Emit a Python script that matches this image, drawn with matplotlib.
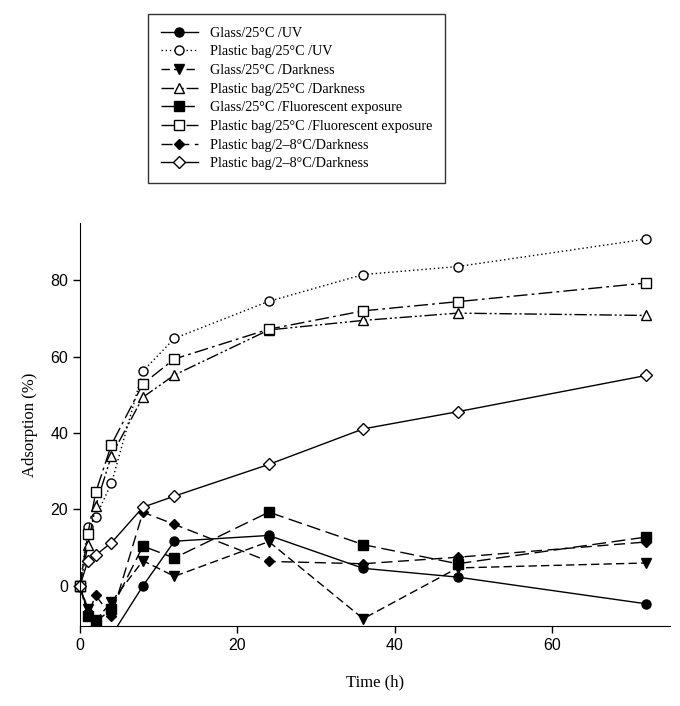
import matplotlib.pyplot as plt
from matplotlib.patches import Rectangle

# data
hours = [0, 1, 2, 4, 8, 12, 24, 36, 48, 72]

glass_uv = [0, -7, -10, -13, 0, 11.7, 13.2, 4.6, 2.3, -4.7]
bag_uv = [0, 15.5, 18, 26.9, 56.2, 64.8, 74.5, 81.5, 83.6, 90.8]
glass_dark = [0, -6, -9, -4.2, 6.6, 2.5, 11.6, -8.6, 4.7, 6.0]
bag_dark = [0, 10.7, 21.0, 34.1, 49.4, 55.2, 67.0, 69.5, 71.4, 70.8]
glass_fluo = [0, -8, -9.5, -6, 10.4, 7.3, 19.3, 10.8, 5.8, 12.8]
bag_fluo = [0, 13.6, 24.5, 37.0, 52.9, 59.4, 67.2, 72.0, 74.4, 79.3]
bag_cold_dark_f = [0, -7.5, -2.5, -8, 19.3, 16.1, 6.4, 5.8, 7.5, 11.5]
bag_cold_dark_o = [0, 6.6, 8.1, 11.3, 20.6, 23.5, 31.8, 41.1, 45.6, 55.1]

labels = ['Glass/25°C /UV',
          'Plastic bag/25°C /UV',
          'Glass/25°C /Darkness',
          'Plastic bag/25°C /Darkness',
          'Glass/25°C /Fluorescent exposure',
          'Plastic bag/25°C /Fluorescent exposure',
          'Plastic bag/2–8°C/Darkness',
          'Plastic bag/2–8°C/Darkness']

series = [glass_uv, bag_uv, glass_dark, bag_dark,
          glass_fluo, bag_fluo, bag_cold_dark_f, bag_cold_dark_o]

styles = [
    dict(marker='o', mfc='black', ms=6.5, ls='-'),
    dict(marker='o', mfc='white', ms=6.5, ls=(0, (1, 2))),
    dict(marker='v', mfc='black', ms=7, ls=(0, (6, 3))),
    dict(marker='^', mfc='white', ms=7, ls=(0, (9, 2, 1.5, 2, 1.5, 2))),
    dict(marker='s', mfc='black', ms=6.5, ls=(0, (10, 4))),
    dict(marker='s', mfc='white', ms=6.5, ls=(0, (10, 3, 2, 3))),
    dict(marker='D', mfc='black', ms=5.5, ls=(0, (8, 4))),
    dict(marker='D', mfc='white', ms=6, ls='-'),
]

fig = plt.figure(figsize=(6.8, 7.06), dpi=100)
ax = fig.add_axes([80 / 680, 80 / 706, 590 / 680, 403 / 706])

clip = Rectangle((-0.03, 0), 1.06, 1.1, transform=ax.transAxes,
                 facecolor='none', edgecolor='none')
ax.add_patch(clip)

handles = []
for y, lab, st in zip(series, labels, styles):
    ln, = ax.plot(hours, y, color='black', lw=1.0, mec='black', mew=1.0,
                  label=lab, **st)
    ln.set_clip_path(clip)
    handles.append(ln)

ax.set_xlim(0, 75)
ax.set_ylim(-10.5, 95)
ax.set_xticks([0, 20, 40, 60])
ax.set_yticks([0, 20, 40, 60, 80])
ax.spines['top'].set_visible(False)
ax.spines['right'].set_visible(False)
ax.tick_params(direction='out', length=5, width=1, labelsize=11.5)
for t in ax.get_xticklabels() + ax.get_yticklabels():
    t.set_family('Liberation Sans')

ax.set_xlabel('Time (h)', family='Liberation Serif', fontsize=12)
ax.set_ylabel('Adsorption (%)', family='Liberation Serif', fontsize=12)
ax.xaxis.set_label_coords(0.5, -0.12)
ax.yaxis.set_label_coords(-0.071, 0.5)

leg = fig.legend(handles=handles, loc='upper left',
                 bbox_to_anchor=(148 / 680, 1 - 14 / 706),
                 prop={'family': 'Liberation Serif', 'size': 10.2},
                 frameon=True, fancybox=False, edgecolor='black',
                 handlelength=2.6, handletextpad=0.9, labelspacing=0.4,
                 borderpad=0.9, numpoints=1, borderaxespad=0)
leg.get_frame().set_linewidth(1.0)

fig.savefig('out.png', dpi=100)
